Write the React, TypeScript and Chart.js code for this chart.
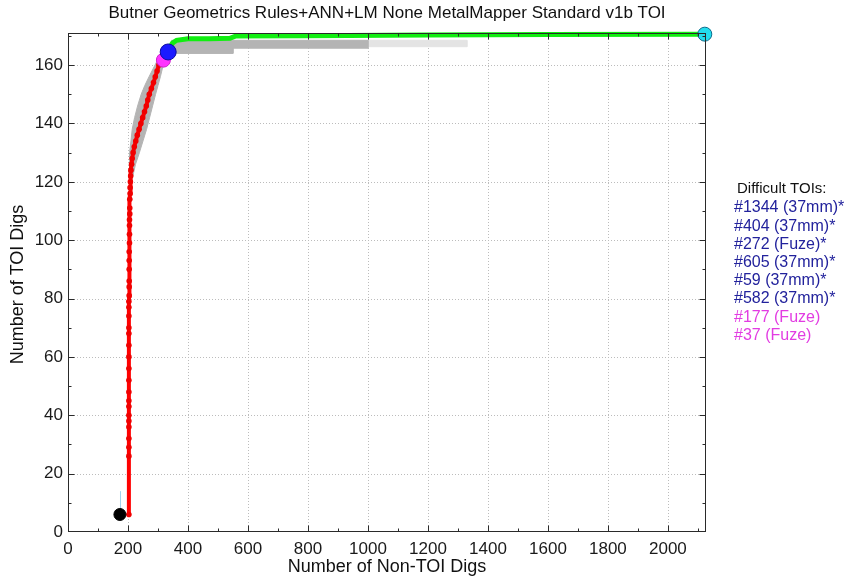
import { useEffect, useRef } from 'react';
import { Chart, registerables } from 'chart.js';

Chart.register(...registerables);

const TITLE = 'Butner Geometrics Rules+ANN+LM None MetalMapper Standard v1b TOI';
const X_TITLE = 'Number of Non-TOI Digs';
const Y_TITLE = 'Number of TOI Digs';
const LEGEND_HEADER = 'Difficult TOIs:';
const LEGEND_ITEMS = ['#1344 (37mm)*', '#404 (37mm)*', '#272 (Fuze)*', '#605 (37mm)*', '#59 (37mm)*', '#582 (37mm)*', '#177 (Fuze)', '#37 (Fuze)'];
const LEGEND_COLORS = ['#22229c', '#22229c', '#22229c', '#22229c', '#22229c', '#22229c', '#e23ce2', '#e23ce2'];

// Red (Rules+ANN) curve
const redX = [203, 203, 203, 203, 203, 203, 203, 203, 203, 203, 203, 203, 203, 203, 203, 203, 203, 203, 203, 204, 204, 204, 204, 204, 204, 205, 205, 205, 205, 206, 206, 206, 207, 207, 208, 209, 210, 212, 214, 217, 221, 226, 231, 237, 243, 249, 255, 261, 266, 271, 278, 285, 291, 297, 303, 309, 316];
const redY = [6, 26, 29, 32, 36, 38, 40, 43, 45, 48, 52, 56, 60, 64, 68, 70, 74, 77, 79, 81, 84, 86, 90, 93, 96, 99, 102, 105, 107, 109, 111, 114, 116, 118, 120, 122, 124, 126, 128, 130, 132, 134, 136, 138, 140, 142, 144, 146, 148, 150, 152, 154, 156, 158, 160, 161, 162];

// Green (remaining) curve
const greenX = [334, 340, 348, 362, 400, 470, 540, 560, 800, 1200, 1600, 2123];
const greenY = [164.5, 166, 167.5, 168.5, 169, 169, 169.2, 170, 170.1, 170.3, 170.5, 170.6];

// Gray uncertainty band around red curve (closed shape)
const bandRedX = [205, 204, 206, 210, 214, 222, 232, 244, 256, 270, 285, 300, 325, 315, 308, 300, 292, 282, 272, 262, 250, 238, 225, 212, 205];
const bandRedY = [120, 126, 130, 134, 138, 142, 146, 150, 153, 156, 159, 162, 162, 159, 156, 153, 150, 146, 142, 138, 134, 130, 126, 120, 120];

// Gray band beneath green curve
const bandGreenX = [345, 345, 1000, 1000, 550, 550, 345];
const bandGreenY = [164, 168.5, 168.5, 165.8, 165.8, 164, 164];
const bandGreenLightX = [1000, 1000, 1330, 1330, 1000];
const bandGreenLightY = [166.3, 168.5, 168.5, 166.3, 166.3];

// Small light-blue stub near start point
const stubX = [175, 175];
const stubY = [6, 14];

// Marker points
const blackPt = { x: 173, y: 6 };
const magentaPt = { x: 318, y: 161.7 };
const bluePt = { x: 334, y: 164.5 };
const cyanPt = { x: 2123, y: 170.6 };

const X_MAX = 2127;
const Y_MAX = 171;
const X_STEP = 200;
const Y_STEP = 20;
const X_MINOR = 100;
const Y_MINOR = 10;

const FONT = '"Liberation Sans", Arial, sans-serif';

const zip = (xs: number[], ys: number[]) => xs.map((x, i) => ({ x, y: ys[i] }));

const decorPlugin = {
  id: 'decor',
  beforeDatasetsDraw(chart: any) {
    const { ctx, chartArea: a, scales } = chart;
    const xs = scales.x, ys = scales.y;
    ctx.save();
    ctx.strokeStyle = '#bcbcbc';
    ctx.lineWidth = 1;
    ctx.setLineDash([1, 2]);
    for (let v = X_STEP; v < X_MAX; v += X_STEP) {
      const px = Math.round(xs.getPixelForValue(v)) + 0.5;
      ctx.beginPath(); ctx.moveTo(px, a.top); ctx.lineTo(px, a.bottom); ctx.stroke();
    }
    for (let v = Y_STEP; v < Y_MAX; v += Y_STEP) {
      const py = Math.round(ys.getPixelForValue(v)) + 0.5;
      ctx.beginPath(); ctx.moveTo(a.left, py); ctx.lineTo(a.right, py); ctx.stroke();
    }
    ctx.restore();
  },
  afterDatasetsDraw(chart: any) {
    const { ctx, chartArea: a, scales } = chart;
    const xs = scales.x, ys = scales.y;
    ctx.save();
    ctx.setLineDash([]);
    ctx.strokeStyle = '#2a2a2a';
    ctx.lineWidth = 1;
    const L = Math.round(a.left) + 0.5, R = Math.round(a.right) - 0.5, T = Math.round(a.top) + 0.5, B = Math.round(a.bottom) - 0.5;
    ctx.strokeRect(L, T, R - L, B - T);
    for (let v = X_MINOR; v < X_MAX; v += X_MINOR) {
      const len = v % X_STEP === 0 ? 6 : 3;
      const px = Math.round(xs.getPixelForValue(v)) + 0.5;
      ctx.beginPath(); ctx.moveTo(px, B); ctx.lineTo(px, B - len); ctx.moveTo(px, T); ctx.lineTo(px, T + len); ctx.stroke();
    }
    for (let v = Y_MINOR; v < Y_MAX; v += Y_MINOR) {
      const len = v % Y_STEP === 0 ? 6 : 3;
      const py = Math.round(ys.getPixelForValue(v)) + 0.5;
      ctx.beginPath(); ctx.moveTo(L, py); ctx.lineTo(L + len, py); ctx.moveTo(R, py); ctx.lineTo(R - len, py); ctx.stroke();
    }
    ctx.restore();
  },
  afterDraw(chart: any) {
    const { ctx, chartArea: a } = chart;
    ctx.save();
    ctx.fillStyle = '#111';
    ctx.textBaseline = 'middle';
    ctx.textAlign = 'center';
    ctx.font = `17px ${FONT}`;
    ctx.fillText(TITLE, (a.left + a.right) / 2, 13);
    ctx.font = `18px ${FONT}`;
    ctx.fillText(X_TITLE, (a.left + a.right) / 2, 567);
    ctx.save();
    ctx.translate(18, (a.top + a.bottom) / 2 + 2);
    ctx.rotate(-Math.PI / 2);
    ctx.fillText(Y_TITLE, 0, 0);
    ctx.restore();
    ctx.textAlign = 'left';
    ctx.font = `15px ${FONT}`;
    ctx.fillStyle = '#111';
    ctx.fillText(LEGEND_HEADER, 737, 189);
    ctx.font = `16px ${FONT}`;
    LEGEND_ITEMS.forEach((t, i) => {
      ctx.fillStyle = LEGEND_COLORS[i];
      ctx.fillText(t, 734, 208 + i * 18.2);
    });
    ctx.restore();
  },
};

export default function App() {
  const ref = useRef<HTMLCanvasElement>(null);
  useEffect(() => {
    const chart = new Chart(ref.current!, {
      type: 'scatter',
      data: {
        datasets: [
          { label: 'black', data: [blackPt], pointRadius: 6, pointBackgroundColor: '#000', pointBorderColor: '#000', order: 0, clip: false } as any,
          { label: 'magenta', data: [magentaPt], pointRadius: 7, pointBackgroundColor: '#ff33ff', pointBorderColor: '#cc22cc', order: 0, clip: false } as any,
          { label: 'blue', data: [bluePt], pointRadius: 8, pointBackgroundColor: '#1a1aff', pointBorderColor: '#0a0aa0', pointBorderWidth: 1, order: -1, clip: false } as any,
          { label: 'cyan', data: [cyanPt], pointRadius: 7, pointBackgroundColor: '#22ddee', pointBorderColor: '#0d6a8a', pointBorderWidth: 1, order: 0, clip: false } as any,
          { label: 'red', data: zip(redX, redY), showLine: true, borderColor: '#ff0000', borderWidth: 4, pointRadius: 2.8, pointBorderWidth: 0, pointBackgroundColor: '#f00000', order: 2 } as any,
          { label: 'green', data: zip(greenX, greenY), showLine: true, borderColor: '#11ee11', borderWidth: 5, pointRadius: 0, order: 1, clip: false } as any,
          { label: 'stub', data: zip(stubX, stubY), showLine: true, borderColor: '#9fd3ee', borderWidth: 1, pointRadius: 0, order: 3 } as any,
          { label: 'bandRed', data: zip(bandRedX, bandRedY), showLine: true, fill: 'shape', backgroundColor: '#b4b4b4', borderColor: '#b4b4b4', borderWidth: 1, pointRadius: 0, order: 5 } as any,
          { label: 'bandGreen', data: zip(bandGreenX, bandGreenY), showLine: true, fill: 'shape', backgroundColor: '#b4b4b4', borderColor: '#b4b4b4', borderWidth: 1, pointRadius: 0, order: 5 } as any,
          { label: 'bandGreenLight', data: zip(bandGreenLightX, bandGreenLightY), showLine: true, fill: 'shape', backgroundColor: '#e4e4e4', borderColor: '#e4e4e4', borderWidth: 1, pointRadius: 0, order: 6 } as any,
        ],
      },
      options: {
        responsive: false,
        animation: false,
        devicePixelRatio: 1,
        layout: { padding: { left: 0, top: 33, right: 153, bottom: 0 } },
        plugins: { legend: { display: false }, tooltip: { enabled: false }, title: { display: false } },
        scales: {
          x: {
            type: 'linear', min: 0, max: X_MAX,
            grid: { display: false, drawTicks: false },
            border: { display: false },
            ticks: { stepSize: X_STEP, includeBounds: false, maxRotation: 0, autoSkip: false, padding: 7, color: '#1a1a1a', font: { size: 17, family: FONT }, callback: (v: any) => String(v) },
            afterFit: (s: any) => { s.height = 50; },
          },
          y: {
            type: 'linear', min: 0, max: Y_MAX,
            grid: { display: false, drawTicks: false },
            border: { display: false },
            ticks: { stepSize: Y_STEP, includeBounds: false, autoSkip: false, padding: 5, color: '#1a1a1a', font: { size: 17, family: FONT }, callback: (v: any) => String(v) },
            afterFit: (s: any) => { s.width = 68; },
          },
        },
      } as any,
      plugins: [decorPlugin],
    });
    return () => chart.destroy();
  }, []);
  return (
    <div style={{ position: 'fixed', left: 0, top: 0, width: 859, height: 582, background: '#fff' }}>
      <canvas ref={ref} width={859} height={582} style={{ display: 'block', width: 859, height: 582 }} />
    </div>
  );
}
